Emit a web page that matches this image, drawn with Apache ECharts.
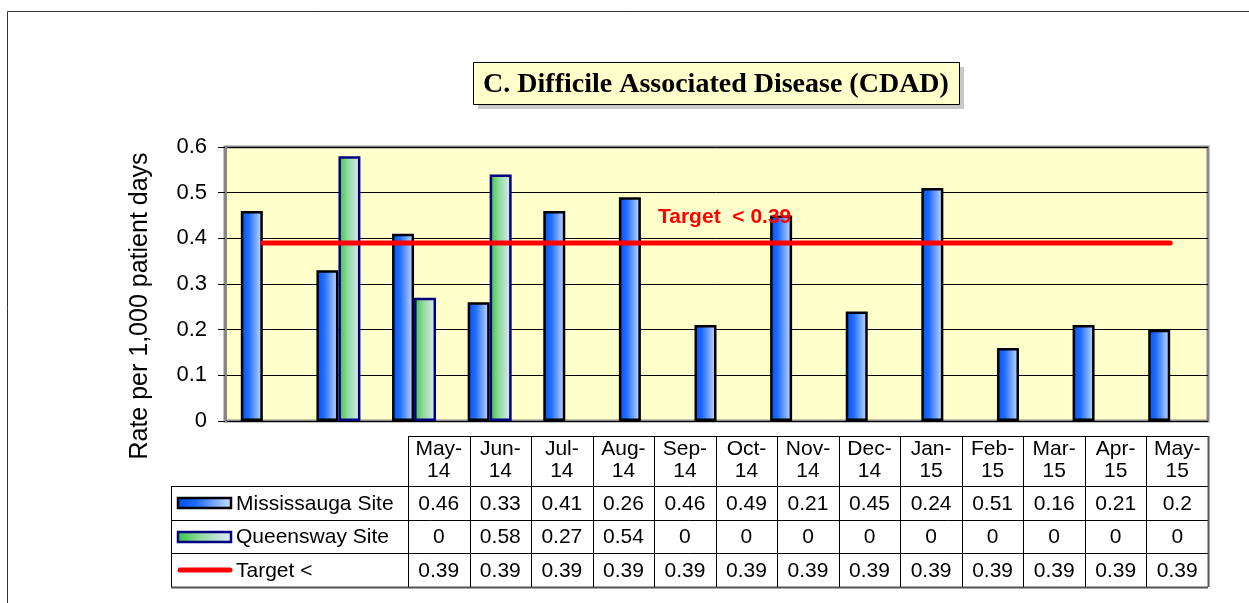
<!DOCTYPE html>
<html>
<head>
<meta charset="utf-8">
<script src="https://cdn.jsdelivr.net/npm/echarts@6/dist/echarts.min.js"></script>
<style>
  html, body { margin: 0; padding: 0; background: #fff; }
  #chart { width: 1249px; height: 603px; }
</style>
</head>
<body>
<div id="chart"></div>
<script>
var months = ['May-14', 'Jun-14', 'Jul-14', 'Aug-14', 'Sep-14', 'Oct-14', 'Nov-14',
              'Dec-14', 'Jan-15', 'Feb-15', 'Mar-15', 'Apr-15', 'May-15'];
var mississauga = [0.46, 0.33, 0.41, 0.26, 0.46, 0.49, 0.21, 0.45, 0.24, 0.51, 0.16, 0.21, 0.2];
var queensway = [0, 0.58, 0.27, 0.54, 0, 0, 0, 0, 0, 0, 0, 0, 0];
var target = [0.39, 0.39, 0.39, 0.39, 0.39, 0.39, 0.39, 0.39, 0.39, 0.39, 0.39, 0.39, 0.39];
var seriesNames = ['Mississauga Site', 'Queensway Site', 'Target <'];
var yMin = 0, yMax = 0.6, yStep = 0.1;

var blueFill = { type: 'linear', x: 0, y: 0, x2: 1, y2: 0, colorStops: [
  { offset: 0, color: '#0050f5' }, { offset: 0.35, color: '#1f6dff' }, { offset: 1, color: '#cfe0ff' }] };
var greenFill = { type: 'linear', x: 0, y: 0, x2: 1, y2: 0, colorStops: [
  { offset: 0, color: '#2fc23a' }, { offset: 0.4, color: '#8fd99a' }, { offset: 1, color: '#e2eaff' }] };

var font = '21px "Liberation Sans", Arial, sans-serif';

// zero-height bars draw nothing in the original
function barData(arr) {
  return arr.map(function(v) { return v === 0 ? '-' : v; });
}

// --- data table under the plot ---
var tblLeft = 408, tblRight = 1208, legLeft = 171;
var colW = (tblRight - tblLeft) / months.length;
var headTop = 436, rowLines = [486, 520, 553, 587];
var g = [];

function line(x1, y1, x2, y2, color, w) {
  g.push({ type: 'line', z: 50, shape: { x1: x1, y1: y1, x2: x2, y2: y2 },
    style: { stroke: color || '#000', lineWidth: w || 1 } });
}
function text(x, y, s, extra) {
  var st = { text: s, font: font, fill: '#000', textAlign: 'center', textVerticalAlign: 'middle' };
  for (var k in extra) st[k] = extra[k];
  g.push({ type: 'text', z: 60, x: x, y: y, style: st });
}

line(tblLeft, headTop + 0.5, tblRight, headTop + 0.5);
rowLines.forEach(function(y, i) {
  var last = i === rowLines.length - 1;
  line(legLeft, y + 0.5, tblRight, y + 0.5, last ? '#555' : '#000', last ? 2 : 1);
});
line(legLeft + 0.5, rowLines[0], legLeft + 0.5, rowLines[3]);
for (var c = 0; c <= months.length; c++) {
  var x = Math.round(tblLeft + c * colW) + 0.5;
  var edge = c === months.length;
  line(x, headTop, x, rowLines[3], edge ? '#555' : '#000', edge ? 2 : 1);
}
var rowsData = [mississauga, queensway, target];
months.forEach(function(m, i) {
  var cx = tblLeft + (i + 0.5) * colW;
  text(cx, (headTop + rowLines[0]) / 2 - 1, m.replace('-', '-\n'), { lineHeight: 22 });
  rowsData.forEach(function(arr, r) {
    text(cx, (rowLines[r] + rowLines[r + 1]) / 2 + 1, String(arr[i]));
  });
});
// legend keys
g.push({ type: 'rect', z: 55, shape: { x: 178, y: 498, width: 53, height: 10 },
  style: { fill: blueFill, stroke: '#000', lineWidth: 2.5 } });
g.push({ type: 'rect', z: 55, shape: { x: 178, y: 532, width: 53, height: 10 },
  style: { fill: greenFill, stroke: '#000080', lineWidth: 2.5 } });
g.push({ type: 'line', z: 55, shape: { x1: 180, y1: 570, x2: 230, y2: 570 },
  style: { stroke: '#ff0000', lineWidth: 5, lineCap: 'round' } });
seriesNames.forEach(function(n, r) {
  text(236, (rowLines[r] + rowLines[r + 1]) / 2 + 1, n, { textAlign: 'left' });
});

// outer frame
g.push({ type: 'rect', z: 1, shape: { x: 7.5, y: 11.5, width: 1400, height: 800 },
  style: { fill: 'none', stroke: '#333', lineWidth: 1 } });
// title box with shadow
g.push({ type: 'rect', z: 40, shape: { x: 478, y: 67, width: 486, height: 42 }, style: { fill: '#c8c8c8' } });
g.push({ type: 'rect', z: 41, shape: { x: 473.5, y: 62.5, width: 486, height: 42 },
  style: { fill: '#ffffcc', stroke: '#000', lineWidth: 1 } });
text(716, 85, 'C. Difficile Associated Disease (CDAD)',
  { font: 'bold 28px "Liberation Serif", "Times New Roman", serif' });
// y axis title
g.push({ type: 'text', z: 60, x: 140, y: 306, rotation: Math.PI / 2,
  style: { text: 'Rate per 1,000 patient days', font: '25px "Liberation Sans", Arial, sans-serif',
    fill: '#000', textAlign: 'center', textVerticalAlign: 'middle' } });
// target annotation
text(658, 217, 'Target  < ' + target[0],
  { textAlign: 'left', fill: '#ff0000', font: 'bold 21px "Liberation Sans", Arial, sans-serif' });

var chart = echarts.init(document.getElementById('chart'), null, { renderer: 'canvas' });
chart.setOption({
  animation: false,
  backgroundColor: '#fff',
  grid: { left: 225, right: 41, top: 147, bottom: 182, show: true,
    backgroundColor: '#ffffcc', borderColor: '#888', borderWidth: 3 },
  xAxis: {
    type: 'category',
    data: months,
    axisLine: { show: false },
    axisTick: { show: false },
    axisLabel: { show: false }
  },
  yAxis: {
    type: 'value',
    min: yMin, max: yMax, interval: yStep,
    axisLine: { show: true, lineStyle: { color: '#888', width: 3 } },
    axisTick: { show: true, length: 7, lineStyle: { color: '#000' } },
    axisLabel: { color: '#000', fontSize: 22, margin: 18, fontFamily: '"Liberation Sans", Arial, sans-serif' },
    splitLine: { lineStyle: { color: '#000', width: 1 } }
  },
  series: [
    {
      name: seriesNames[0], type: 'bar', data: barData(mississauga),
      barWidth: 22, barGap: '0%',
      itemStyle: { color: blueFill, borderColor: '#000', borderWidth: 2.5 }
    },
    {
      name: seriesNames[1], type: 'bar', data: barData(queensway),
      barWidth: 22,
      itemStyle: { color: greenFill, borderColor: '#000080', borderWidth: 2.5 }
    },
    {
      name: seriesNames[2], type: 'line', data: target, z: 5,
      symbol: 'none',
      lineStyle: { color: '#ff0000', width: 5, cap: 'round' }
    }
  ],
  graphic: g
});
</script>
</body>
</html>
